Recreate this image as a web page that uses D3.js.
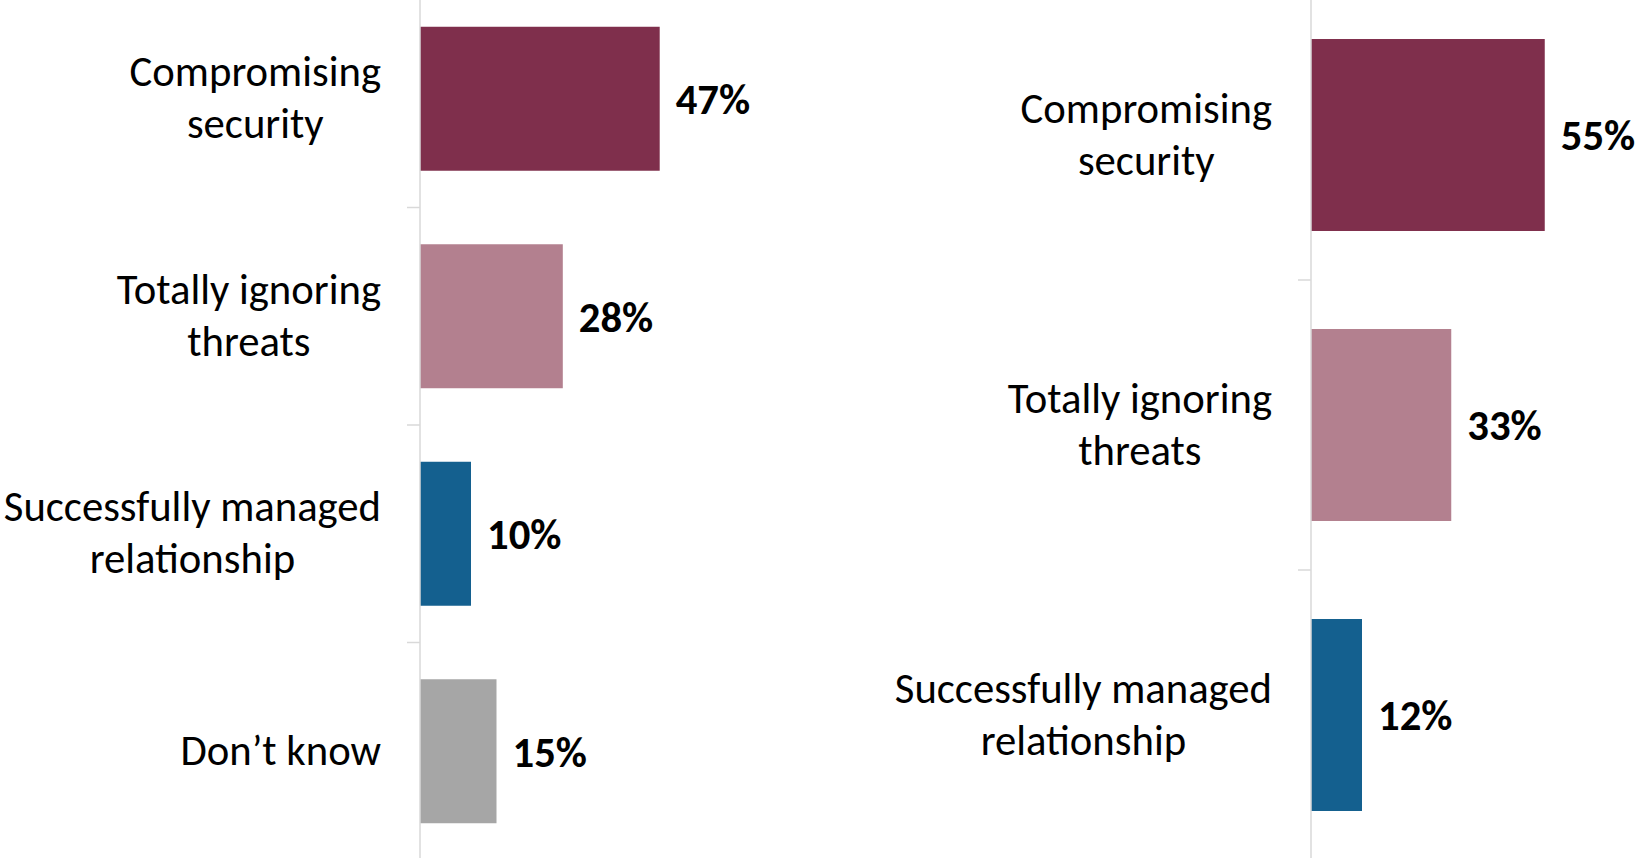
<!DOCTYPE html>
<html>
<head>
<meta charset="utf-8">
<script src="https://cdn.jsdelivr.net/npm/d3@7"></script>
<style>
  html, body { margin: 0; padding: 0; background: #fff; }
  svg { display: block; }
</style>
</head>
<body>
<svg id="chart" width="1643" height="858"></svg>
<script>
// left panel
let leftCats = ["Compromising security", "Totally ignoring threats", "Successfully managed relationship", "Don\u2019t know"];
let leftLines = [["Compromising", "security"], ["Totally ignoring", "threats"], ["Successfully managed", "relationship"], ["Don\u2019t know"]];
let leftValues = [47, 28, 10, 15];
let leftColors = ["#7f2f4c", "#b3808f", "#14608f", "#a6a6a6"];

// right panel
let rightCats = ["Compromising security", "Totally ignoring threats", "Successfully managed relationship"];
let rightLines = [["Compromising", "security"], ["Totally ignoring", "threats"], ["Successfully managed", "relationship"]];
let rightValues = [55, 33, 12];
let rightColors = ["#7f2f4c", "#b3808f", "#14608f"];

let labelFont = "Carlito, 'Open Sans', sans-serif";
let svg = d3.select("#chart");

function drawPanel(axisX, labelRight, xMax, cats, lines, values, colors) {
  let g = svg.append("g");

  let x = d3.scaleLinear().domain([0, xMax]).range([axisX, axisX + 255]);
  let y = d3.scaleBand().domain(cats).range([-10, 860])
    .paddingInner(0.338).paddingOuter(0.169);

  // bars
  g.selectAll("rect.bar")
    .data(cats)
    .enter()
    .append("rect")
    .attr("class", "bar")
    .attr("x", x(0))
    .attr("y", d => y(d))
    .attr("width", (d, i) => x(values[i]) - x(0))
    .attr("height", y.bandwidth())
    .style("fill", (d, i) => colors[i]);

  // axis line + tick marks between categories
  let gap = y.step() * y.paddingInner() / 2;
  let bounds = cats.map(d => y(d) - gap);
  bounds.push(y.range()[1]);
  g.append("line")
    .attr("x1", axisX).attr("x2", axisX)
    .attr("y1", y.range()[0]).attr("y2", y.range()[1])
    .style("stroke", "#d9d9d9")
    .style("stroke-width", 1.5);
  g.selectAll("line.tick")
    .data(bounds)
    .enter()
    .append("line")
    .attr("class", "tick")
    .attr("x1", axisX - 13).attr("x2", axisX)
    .attr("y1", d => d).attr("y2", d => d)
    .style("stroke", "#d9d9d9")
    .style("stroke-width", 1.5);

  // value labels
  g.selectAll("text.value")
    .data(cats)
    .enter()
    .append("text")
    .attr("class", "value")
    .attr("x", (d, i) => x(values[i]) + 16)
    .attr("y", d => y(d) + y.bandwidth() / 2)
    .attr("dy", "0.36em")
    .text((d, i) => values[i] + "%")
    .style("font-family", labelFont)
    .style("font-weight", "bold")
    .style("font-size", "42.7px")
    .style("fill", "#000");

  // category labels, lines centred on each other, block right aligned
  cats.forEach(function(cat, i) {
    let lst = lines[i];
    let cy = y(cat) + y.bandwidth() / 2 - 1;
    let texts = [];
    let counter = 0;
    for (var line of lst) {
      let t = g.append("text")
        .attr("y", cy + (counter - (lst.length - 1) / 2) * 52)
        .attr("dy", "0.34em")
        .text(line)
        .style("font-family", labelFont)
        .style("font-size", "42.7px")
        .style("text-anchor", "middle")
        .style("fill", "#000");
      texts.push(t);
      counter = counter + 1;
    }
    let maxW = d3.max(texts, t => t.node().getComputedTextLength());
    for (var t of texts) {
      t.attr("x", labelRight - maxW / 2);
    }
  });
}

drawPanel(420, 381, 50, leftCats, leftLines, leftValues, leftColors);
drawPanel(1311, 1272, 60, rightCats, rightLines, rightValues, rightColors);
</script>
</body>
</html>
